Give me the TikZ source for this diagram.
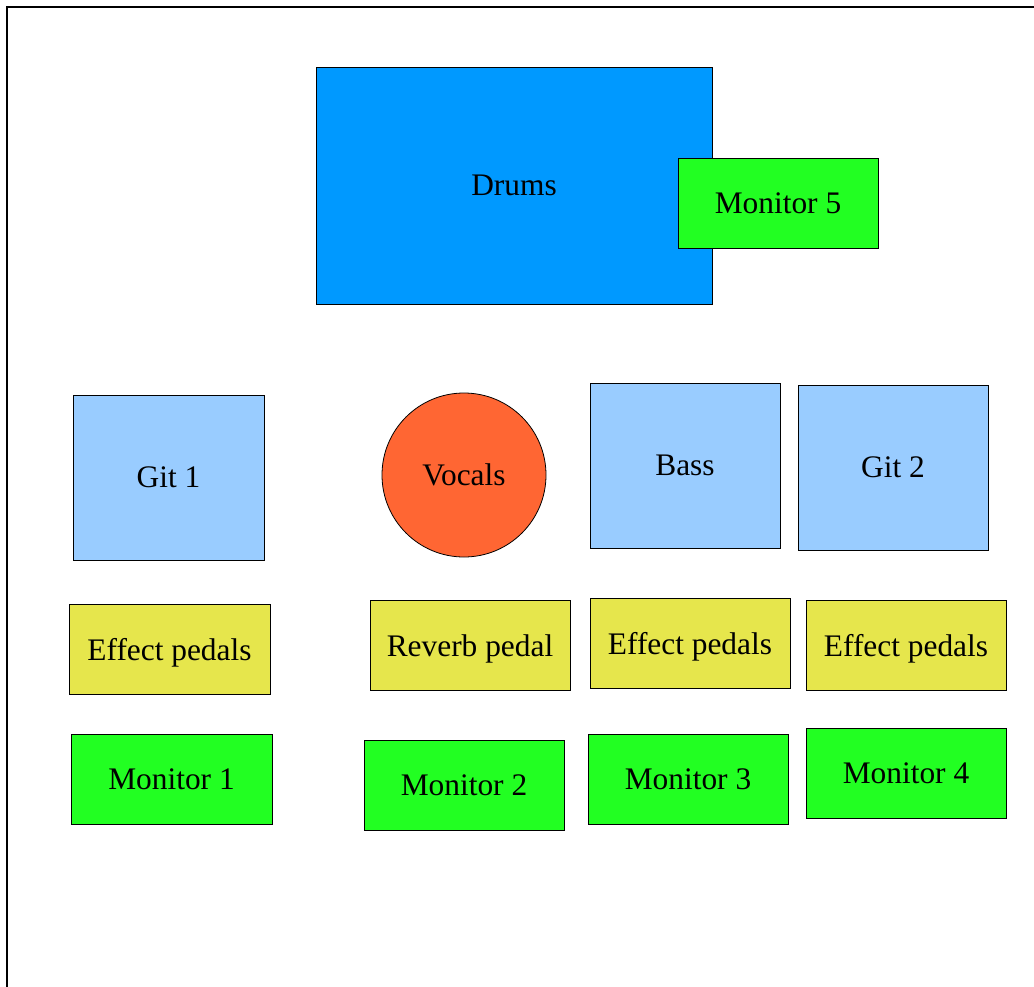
\documentclass[tikz,border=0pt]{standalone}
\usepackage{fontspec}
\setmainfont{Liberation Serif}
\definecolor{drumblue}{RGB}{0,153,255}
\definecolor{ampblue}{RGB}{153,204,255}
\definecolor{monigreen}{RGB}{34,255,34}
\definecolor{pedalyellow}{RGB}{230,230,76}
\definecolor{voxorange}{RGB}{255,102,51}
\begin{document}
\begin{tikzpicture}[x=1bp,y=-1bp,
    every node/.style={draw=black,line width=0.8pt,inner sep=0pt,font=\fontsize{31.5}{36}\selectfont},
    amp/.style={fill=ampblue,minimum width=190bp,minimum height=165bp},
    pedal/.style={fill=pedalyellow,minimum width=200bp,minimum height=90bp,text height=30bp,text depth=6.6bp},
    monitor/.style={fill=monigreen,minimum width=200bp,minimum height=90bp}]
    \useasboundingbox (0,0) rectangle (1034,987);
    \draw[line width=1.2pt] (7,987) -- (7,7) -- (1034,7);
    % drum riser with its monitor
    \node[fill=drumblue,minimum width=396bp,minimum height=237bp] (drums) at (514,185.5) {Drums};
    \node[monitor] (mon5) at (778,203.5) {Monitor 5};
    % front line
    \node[amp,minimum width=191bp] (git1) at (168.5,477.5) {Git 1};
    \node[circle,fill=voxorange,minimum size=164bp] (vocals) at (464,475) {Vocals};
    \node[amp] (bass) at (685,465.5) {Bass};
    \node[amp] (git2) at (893,467.5) {Git 2};
    % pedals
    \node[pedal,minimum width=201bp] (pedals1) at (169.5,649) {Effect pedals};
    \node[pedal] (reverb) at (470,645) {Reverb pedal};
    \node[pedal] (pedals2) at (690,643) {Effect pedals};
    \node[pedal] (pedals3) at (906,645) {Effect pedals};
    % monitors
    \node[monitor,minimum width=201bp] (mon1) at (171.5,779) {Monitor 1};
    \node[monitor] (mon2) at (464,785) {Monitor 2};
    \node[monitor] (mon3) at (688,779) {Monitor 3};
    \node[monitor] (mon4) at (906,773) {Monitor 4};
\end{tikzpicture}
\end{document}
